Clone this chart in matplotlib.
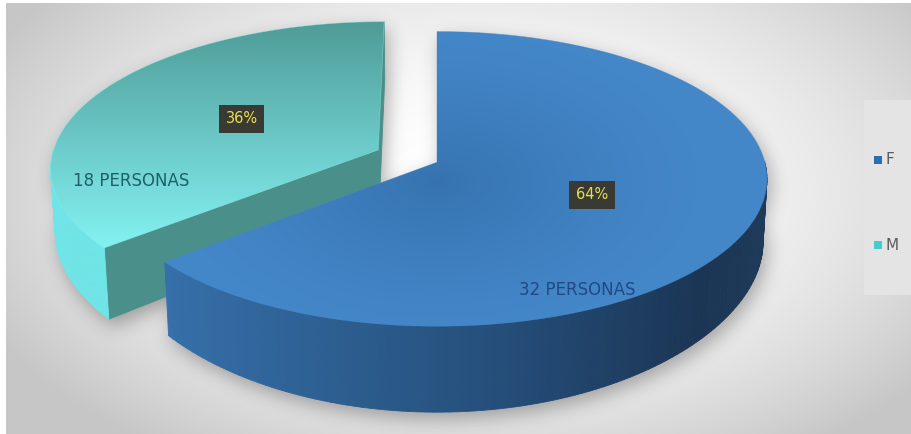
import numpy as np
import matplotlib
matplotlib.use("Agg")
import matplotlib.pyplot as plt
from matplotlib.patches import Polygon, Rectangle
from matplotlib.collections import PolyCollection
from matplotlib.path import Path
from matplotlib.colors import to_rgb

# ---- data -------------------------------------------------------------
categories = ["F", "M"]
counts = [32, 18]
count_labels = ["32 PERSONAS", "18 PERSONAS"]
explode = [0.0, 0.2]

# ---- style ------------------------------------------------------------
top_dark = ["#3571ae", "#4f9b97"]
top_light = ["#4487c9", "#84f2f2"]
wall_stops = [
    [(160, "#3670ab"), (330, "#2d5f91"), (520, "#244c77"), (700, "#1b3554"), (780, "#1f3c5b")],
    [(0, "#70e5e7"), (912, "#70e5e7")],
]
cut_color = ["#2a5a8a", "#4b8f8b"]
legend_colors = ["#2f6db3", "#45cccc"]
label_colors = ["#1f4a86", "#1f5f68"]
# text anchors on each slice: (angle offset from slice middle or absolute angle, radius)
pct_pos = [(0.0, 0.51), (-2.0, 0.49)]
name_pos = [(-64.1, 0.89), (196.2, 0.77)]
FONT = "DejaVu Sans"

# ---- camera -----------------------------------------------------------
ELEV = np.radians(27)
DIST = 8.0
THICK = 0.26
SX, SY = 323.0, 335.0
CX, CY = 437.0, 241.0
W, H = 912, 434


def project(x, y, z):
    x, y, z = np.broadcast_arrays(np.asarray(x, float), np.asarray(y, float), np.asarray(z, float))
    v = y * np.sin(ELEV) + z * np.cos(ELEV)
    w = y * np.cos(ELEV) - z * np.sin(ELEV)
    f = DIST / (DIST + w)
    return CX + SX * x * f, CY - SY * v * f


def bottom_z(y):
    # side walls look thicker toward the viewer
    y = np.asarray(y, float)
    return THICK - THICK * (0.8 + 0.2 * np.clip(-y, 0, 1) ** 2)


def interp_color(stops, x):
    xs = np.array([s[0] for s in stops], float)
    cols = np.array([to_rgb(s[1]) for s in stops])
    return np.stack([np.interp(x, xs, cols[:, i]) for i in range(3)], axis=-1)


def gradient_fill(ax, xy, shade, zorder):
    x0, x1 = int(np.floor(xy[:, 0].min())) - 1, int(np.ceil(xy[:, 0].max())) + 1
    y0, y1 = int(np.floor(xy[:, 1].min())) - 1, int(np.ceil(xy[:, 1].max())) + 1
    gx, gy = np.meshgrid(np.arange(x0, x1) + 0.5, np.arange(y0, y1) + 0.5)
    im = ax.imshow(shade(gx, gy), extent=(x0, x1, y1, y0), zorder=zorder,
                   interpolation="bilinear", aspect="auto")
    clip = Polygon(xy, closed=True, facecolor="none", edgecolor="none")
    ax.add_patch(clip)
    im.set_clip_path(clip)


def blur(a, sigma):
    n = int(3 * sigma)
    k = np.exp(-0.5 * (np.arange(-n, n + 1) / sigma) ** 2)
    k /= k.sum()
    a = np.apply_along_axis(lambda r: np.convolve(r, k, mode="same"), 1, a)
    a = np.apply_along_axis(lambda r: np.convolve(r, k, mode="same"), 0, a)
    return a


fig = plt.figure(figsize=(W / 100, H / 100), dpi=100)
fig.patch.set_facecolor("white")
ax = fig.add_axes([0, 0, 1, 1])
ax.set_xlim(0, W)
ax.set_ylim(H, 0)
ax.axis("off")

# background: radial grey gradient
gx, gy = np.meshgrid(np.arange(W) + 0.5, np.arange(H) + 0.5)
r2 = ((gx - 480) / 470) ** 2 + ((gy - 190) / 270) ** 2
bg = np.clip(1.0 - 0.16 * r2, 0.78, 1.0)
ax.imshow(np.dstack([bg, bg, bg]), extent=(6, W, H, 3), zorder=0, aspect="auto")

# slice geometry
total = sum(counts)
slices = []
start = 90.0
for i, c in enumerate(counts):
    sweep = 360.0 * c / total
    lo, hi = start - sweep, start
    mid = np.radians((lo + hi) / 2)
    ox, oy = explode[i] * np.cos(mid), explode[i] * np.sin(mid)
    slices.append(dict(i=i, lo=lo, hi=hi, mid=mid, ox=ox, oy=oy))
    start -= sweep

cam = np.array([0.0, -DIST * np.cos(ELEV), DIST * np.sin(ELEV)])

# shadow from the whole silhouette, nudged down-right
pts = np.column_stack([gx.ravel() - 4, gy.ravel() - 7])
mask = np.zeros(W * H)
for s in slices:
    th = np.radians(np.linspace(s["lo"], s["hi"], 200))
    rx, ry = s["ox"] + np.cos(th), s["oy"] + np.sin(th)
    cx_, cy_ = np.r_[s["ox"], rx], np.r_[s["oy"], ry]
    for zz in (bottom_z(cy_), THICK):
        px, py = project(cx_, cy_, zz)
        mask = np.maximum(mask, Path(np.column_stack([px, py])).contains_points(pts))
    tx, ty = project(rx, ry, THICK)
    bx, by = project(rx, ry, bottom_z(ry))
    band = np.column_stack([np.r_[tx, bx[::-1]], np.r_[ty, by[::-1]]])
    mask = np.maximum(mask, Path(band).contains_points(pts))
shadow = blur(mask.reshape(H, W).astype(float), 9)
sh = np.zeros((H, W, 4))
sh[..., 3] = shadow * 0.3
ax.imshow(sh, extent=(0, W, H, 0), zorder=1, aspect="auto")

# draw slices, far ones first
z = 2
for s in sorted(slices, key=lambda s: -s["oy"]):
    i, ox, oy = s["i"], s["ox"], s["oy"]

    # radial cut faces facing the camera
    for ang, sign in ((s["lo"], -1), (s["hi"], 1)):
        a = np.radians(ang)
        n = np.array([np.cos(a + sign * np.pi / 2), np.sin(a + sign * np.pi / 2), 0])
        p = np.array([ox + 0.5 * np.cos(a), oy + 0.5 * np.sin(a), THICK / 2])
        if np.dot(n, cam - p) > 1e-6:
            ex, ey = ox + np.cos(a), oy + np.sin(a)
            fx, fy = project([ox, ex, ex, ox], [oy, ey, ey, oy],
                             [THICK, THICK, bottom_z(ey), bottom_z(oy)])
            ax.add_patch(Polygon(np.column_stack([fx, fy]), closed=True,
                                 facecolor=cut_color[i], edgecolor=cut_color[i],
                                 lw=0.6, zorder=z))

    # outer wall, front part only
    th = np.radians(np.linspace(s["lo"], s["hi"], 181))
    quads, cols = [], []
    for t0, t1 in zip(th[:-1], th[1:]):
        if np.sin((t0 + t1) / 2) >= 0:
            continue
        xs = ox + np.cos([t0, t1, t1, t0])
        ys = oy + np.sin([t0, t1, t1, t0])
        zs = [THICK, THICK, bottom_z(ys[2]), bottom_z(ys[3])]
        qx, qy = project(xs, ys, zs)
        quads.append(np.column_stack([qx, qy]))
        cols.append(interp_color(wall_stops[i], qx.mean()))
    if quads:
        ax.add_collection(PolyCollection(quads, facecolors=cols, edgecolors=cols,
                                         linewidths=0.6, zorder=z))

    # top face with gradient
    px, py = project(np.r_[ox, ox + np.cos(th)], np.r_[oy, oy + np.sin(th)], THICK)
    top_xy = np.column_stack([px, py])
    dark, light = np.array(to_rgb(top_dark[i])), np.array(to_rgb(top_light[i]))
    if i == 0:
        a0, b0 = px[0], py[0] + 20
        shade = lambda X, Y, d=dark, l=light, a=a0, b=b0: d + (l - d) * np.clip(
            np.hypot((X - a) / 260, (Y - b) / 150), 0, 1)[..., None] ** 0.7
    else:
        y_top, y_bot = py.min(), py.max()
        shade = lambda X, Y, d=dark, l=light, a=y_top, b=y_bot: d + (l - d) * np.clip(
            (Y - a) / (b - a), 0, 1)[..., None]
    gradient_fill(ax, top_xy, shade, z + 0.5)
    ax.add_patch(Polygon(top_xy, closed=True, facecolor="none",
                         edgecolor=top_light[i], lw=0.5, alpha=0.5, zorder=z + 0.6))
    z += 1

# labels
for s in slices:
    i, ox, oy = s["i"], s["ox"], s["oy"]
    da, rad = pct_pos[i]
    a = s["mid"] + np.radians(da)
    lx, ly = project(ox + rad * np.cos(a), oy + rad * np.sin(a), THICK)
    ax.text(lx, ly, f"{round(100 * counts[i] / total)}%", color="#e8df4e",
            fontsize=10.5, family=FONT, ha="center", va="center", zorder=10,
            bbox=dict(boxstyle="square,pad=0.45", facecolor="#3a3a34", edgecolor="none"))
    ang, rad = name_pos[i]
    nx, ny = project(ox + rad * np.cos(np.radians(ang)), oy + rad * np.sin(np.radians(ang)), THICK)
    ax.text(nx, ny, count_labels[i], color=label_colors[i], fontsize=12,
            family=FONT, ha="center", va="center", zorder=10)

# legend
ax.add_patch(Rectangle((864, 100), 60, 195, facecolor="#e4e4e4", edgecolor="none", zorder=5))
for k, (cat, col) in enumerate(zip(categories, legend_colors)):
    yk = 160 + 85 * k
    ax.add_patch(Rectangle((874, yk - 4), 8, 8, facecolor=col, edgecolor="none", zorder=6))
    ax.text(886, yk, cat, color="#5a5a5a", fontsize=11, family=FONT,
            ha="left", va="center", zorder=6)

fig.savefig("out.png", dpi=100)
